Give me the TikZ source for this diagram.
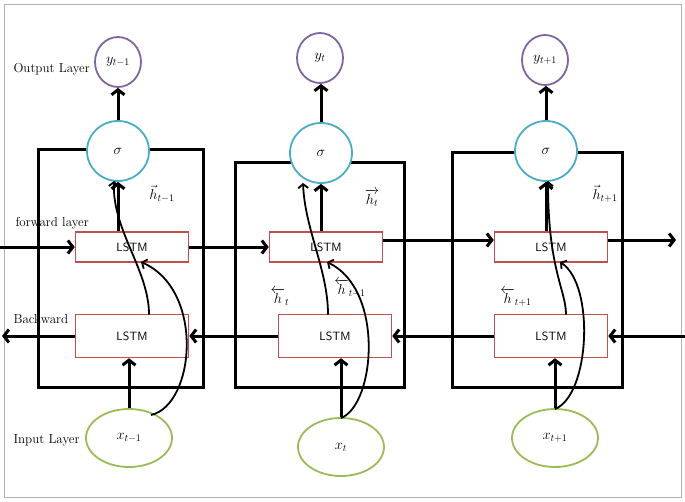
\documentclass[tikz,border=0pt]{standalone}
\usepackage{amsmath}
\usetikzlibrary{arrows.meta,shapes.geometric}
\definecolor{cellred}{RGB}{192,80,77}
\definecolor{outpurple}{RGB}{128,100,162}
\definecolor{sigteal}{RGB}{75,172,198}
\definecolor{ingreen}{RGB}{155,187,89}
\tikzset{
  cell/.style={draw=cellred,line width=1.5pt,minimum width=113pt,minimum height=30pt,inner sep=0pt,font=\sffamily\fontsize{12}{14}\selectfont},
  outp/.style={ellipse,draw=outpurple,line width=1.8pt,minimum width=46pt,minimum height=50pt,inner sep=0pt,font=\fontsize{14}{16}\selectfont},
  sig/.style={ellipse,draw=sigteal,line width=1.8pt,minimum width=62pt,minimum height=60pt,inner sep=0pt,font=\fontsize{14}{16}\selectfont},
  inp/.style={ellipse,draw=ingreen,line width=1.8pt,minimum width=86pt,minimum height=58pt,inner sep=0pt,font=\fontsize{14}{16}\selectfont},
  blk/.style={line width=3pt},
  flow/.style={line width=3pt,-{Straight Barb[length=5pt,width=13pt]}},
  loop/.style={line width=1.8pt,-{Straight Barb[length=4pt,width=10pt]}},
  lbl/.style={font=\fontsize{13}{15}\selectfont},
  hst/.style={font=\fontsize{14}{16}\selectfont}
}
\begin{document}
\begin{tikzpicture}[x=1pt,y=-1pt]
\useasboundingbox (0,0) rectangle (685,501);
\draw[gray!60,line width=0.6pt] (4,4) rectangle (681,497);
% cell frames
\draw[blk] (38,149) rectangle (203,387);
\draw[blk] (235,162) rectangle (404,387);
\draw[blk] (452,152) rectangle (622,387);
% output layer
\node[outp] (y1) at (118,62) {$y_{t-1}$};
\node[outp] (y2) at (320,58) {$y_{t}$};
\node[outp] (y3) at (545,60) {$y_{t+1}$};
\node[sig,fill=white] (s1) at (118,151) {$\sigma$};
\node[sig,fill=white] (s2) at (321,153) {$\sigma$};
\node[sig,fill=white] (s3) at (546,151) {$\sigma$};
% lstm cells
\node[cell,fill=white] (f1) at (132,247) {LSTM};
\node[cell,fill=white] (f2) at (326,247) {LSTM};
\node[cell,fill=white] (f3) at (551,247) {LSTM};
\node[cell,fill=white,minimum height=43pt] (b1) at (132,336) {LSTM};
\node[cell,fill=white,minimum height=43pt] (b2) at (335,336) {LSTM};
\node[cell,fill=white,minimum height=43pt] (b3) at (551,336) {LSTM};
% inputs
\node[inp] (x1) at (129,438) {$x_{t-1}$};
\node[inp] (x2) at (341,447) {$x_{t}$};
\node[inp] (x3) at (555,438) {$x_{t+1}$};
\coordinate (fin) at (0,247);
\coordinate (fout) at (676,240);
\coordinate (bin) at (685,336);
\coordinate (bout) at (2,336);
% layer names
\node[lbl,anchor=west] (nout) at (10,69) {Output Layer};
\node[lbl,anchor=west] (nfw) at (12,223) {forward layer};
\node[lbl,anchor=west] (nbw) at (10,319) {Backward};
\node[lbl,anchor=west] (nin) at (10,440) {Input Layer};
% hidden states
\node[hst] (hf1) at (162,194) {$\vec{h}_{t-1}$};
\node[hst] (hf2) at (372,198) {$\overrightarrow{h_t}$};
\node[hst] (hf3) at (605,194) {$\vec{h}_{t+1}$};
\node[hst] (hb2) at (280,297) {$\overleftarrow{h}_t$};
\node[hst] (hb1) at (350,288) {$\overleftarrow{h}_{t-1}$};
\node[hst] (hb3) at (516,297) {$\overleftarrow{h}_{t+1}$};
% forward and backward chains
\draw[flow] (fin) -- (f1);
\draw[flow] (f1) -- (f2);
\draw[flow] ([yshift=7pt]f2.east) -- ([yshift=7pt]f3.west);
\draw[flow] ([yshift=7pt]f3.east) -- (fout);
\draw[flow] (bin) -- (b3);
\draw[flow] (b3) -- (b2);
\draw[flow] (b2) -- (b1);
\draw[flow] (b1) -- (bout);
% vertical flow
\foreach \i in {1,2,3}{
  \draw[flow] (s\i.north) -- (s\i.north |- y\i.south);
  \draw[flow] (f\i.north -| s\i) -- (s\i.south);
  \draw[flow] (x\i.north) -- (x\i.north |- b\i.south);
}
% recurrent curves
\draw[loop] (149,314.5) .. controls (149,270) and (112,230) .. (114,181);
\draw[loop] (151,415) .. controls (195,405) and (205,290) .. (141,262);
\draw[loop] (328,314.5) .. controls (328,270) and (305,230) .. (303,183);
\draw[loop] (341,418) .. controls (375,405) and (385,290) .. (327,262);
\draw[loop] (566,314.5) .. controls (566,290) and (548,270) .. (548,181);
\draw[loop] (555,409) .. controls (590,395) and (595,285) .. (560,262);
\end{tikzpicture}
\end{document}
